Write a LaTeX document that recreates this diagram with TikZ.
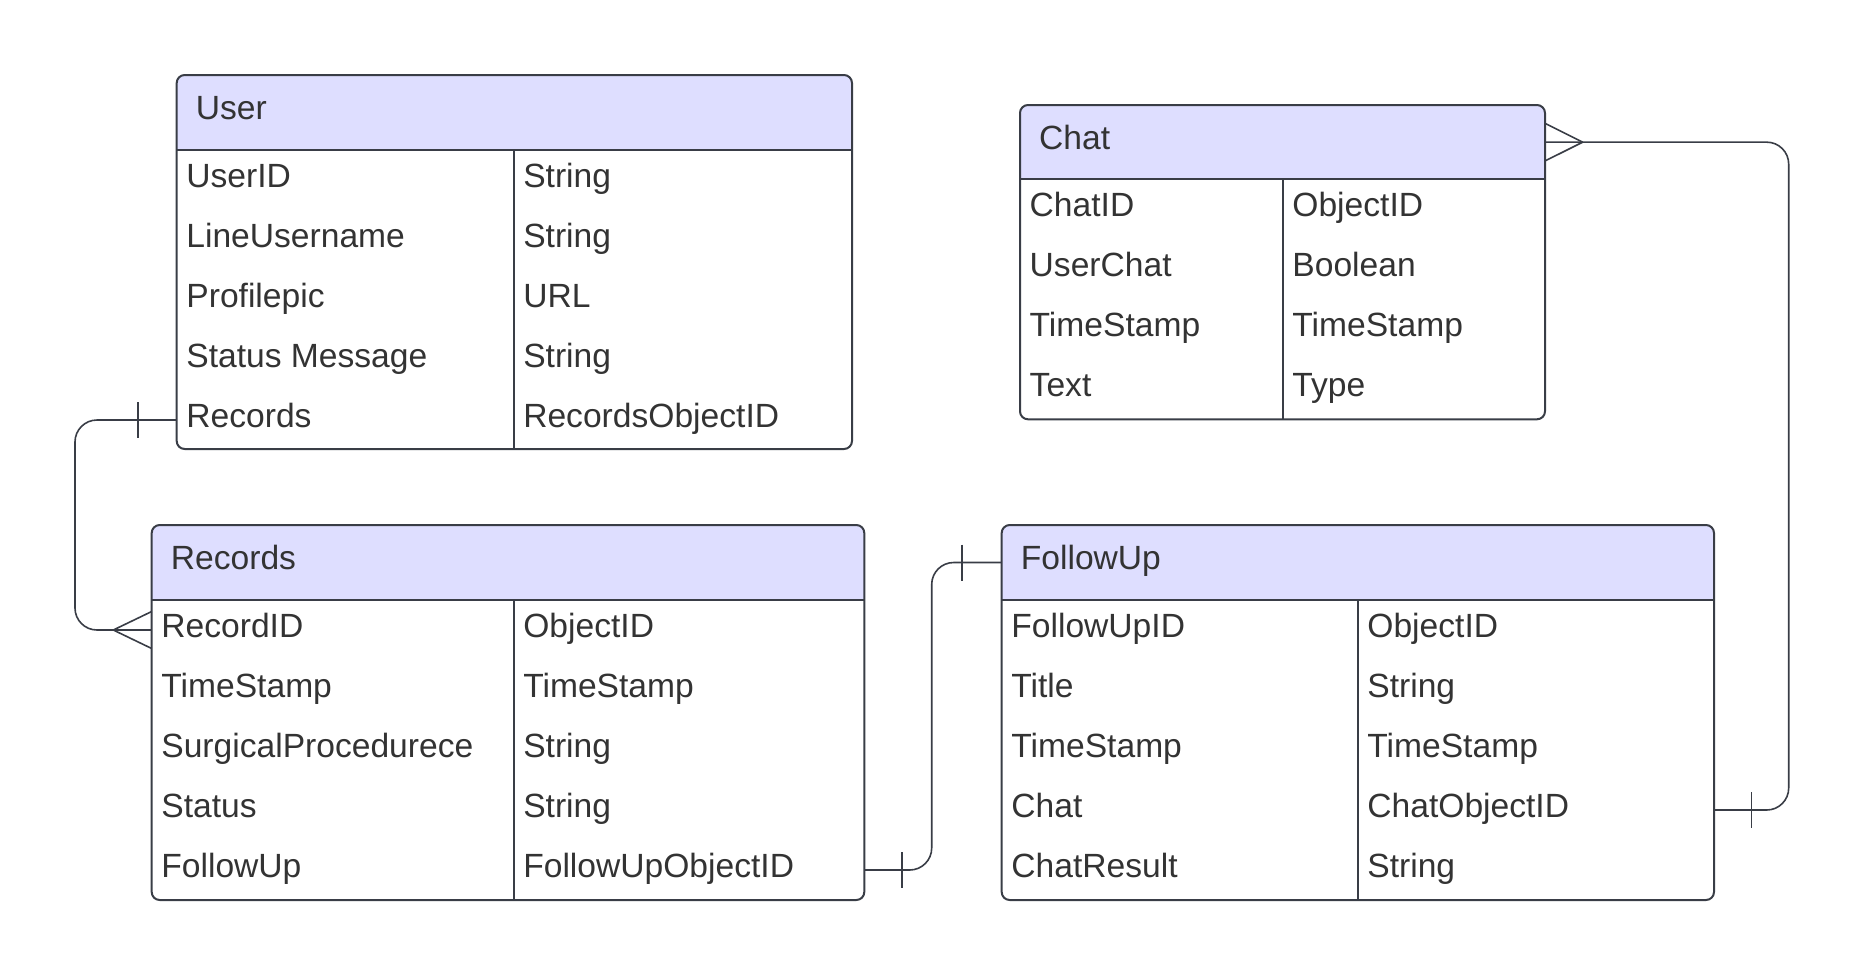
\documentclass[tikz,border=0pt]{standalone}
\usepackage{fontspec}
\setmainfont{Liberation Sans}
\usetikzlibrary{calc}
\definecolor{hdr}{HTML}{DEDEFF}
\definecolor{ln}{HTML}{393D46}
\definecolor{tx}{HTML}{333333}
\newcommand\ertable[9]{%
  \fill[hdr, rounded corners=8pt] (#2,#3) rectangle (#4,#5);
  \fill[hdr] (#2,#3+20) rectangle (#4,#5);
  \node[frame, minimum width={#4-#2}, minimum height={#6-#3}] (#1) at (#2,#3) {};
  \draw[ln, line width=2pt] (#2,#5) -- (#4,#5);
  \draw[ln, line width=2pt] (#7,#5) -- (#7,#6);
  \node[txt] (#1-title) at (#2+19,#3+44) {#8};
  \coordinate (#1-h) at (#2,{(#3+#5)/2});
  \foreach \a/\b [count=\i] in {#9} {
    \node[txt] (#1-\i a) at (#2+9.5,#5+60*\i-23) {\a};
    \node[txt] (#1-\i b) at (#7+9.5,#5+60*\i-23) {\b};
    \coordinate (#1-\i) at (#2,#5+60*\i-30);
  }%
}
\begin{document}
\begin{tikzpicture}[x=1pt,y=-1pt,
  frame/.style={draw=ln, line width=2pt, rounded corners=8pt, rectangle, inner sep=0pt, outer sep=0pt, anchor=north west},
  txt/.style={anchor=base west, inner sep=0pt, text=tx, font=\fontsize{33.6}{40}\selectfont},
  conn/.style={draw=ln, line width=1.6pt, rounded corners=22pt},
  tickline/.style={draw=ln, line width=1.6pt}]
\useasboundingbox (0,0) rectangle (1864,975);

\ertable{user}{176.7}{75}{852}{150}{449}{513.6}{User}{UserID/String, LineUsername/String, Profilepic/URL, Status Message/String, Records/RecordsObjectID}
\ertable{chat}{1020}{105}{1545}{179.3}{419.3}{1282.7}{Chat}{ChatID/ObjectID, UserChat/Boolean, TimeStamp/TimeStamp, Text/Type}
\ertable{records}{151.7}{525}{864.3}{600}{900}{513.6}{Records}{RecordID/ObjectID, TimeStamp/TimeStamp, SurgicalProcedurece/String, Status/String, FollowUp/FollowUpObjectID}
\ertable{followup}{1001.7}{525}{1714}{600}{900}{1357.7}{FollowUp}{FollowUpID/ObjectID, Title/String, TimeStamp/TimeStamp, Chat/ChatObjectID, ChatResult/String}

\coordinate (lb) at (75,0);
\coordinate (rb) at (931.7,0);
\coordinate (cb) at (1788.7,0);

% User.Records -> Records
\draw[conn] (user-5) -- (lb |- user-5) -- (lb |- records-1) -- (records-1);
\draw[tickline] ($(user-5)+(-39,-18)$) -- ($(user-5)+(-39,18)$);
\draw[tickline] ($(records-1)+(-38.4,0)$) -- ($(records-1)+(0,-18.5)$);
\draw[tickline] ($(records-1)+(-38.4,0)$) -- ($(records-1)+(0,18.5)$);

% Records.FollowUp -> FollowUp
\draw[conn] (records.east |- records-5) -- (rb |- records-5) -- (rb |- followup-h) -- (followup-h);
\draw[tickline] ($(records.east |- records-5)+(37.4,-18)$) -- ($(records.east |- records-5)+(37.4,18)$);
\draw[tickline] ($(followup-h)+(-40,-18)$) -- ($(followup-h)+(-40,18)$);

% FollowUp.Chat -> Chat
\draw[conn] (followup.east |- followup-4) -- (cb |- followup-4) -- (cb |- chat-h) -- (chat.east |- chat-h);
\draw[tickline] ($(followup.east |- followup-4)+(37.3,-18)$) -- ($(followup.east |- followup-4)+(37.3,18)$);
\draw[tickline] ($(chat.east |- chat-h)+(37.7,0)$) -- ($(chat.east |- chat-h)+(0,-18.8)$);
\draw[tickline] ($(chat.east |- chat-h)+(37.7,0)$) -- ($(chat.east |- chat-h)+(0,18.8)$);
\end{tikzpicture}
\end{document}
